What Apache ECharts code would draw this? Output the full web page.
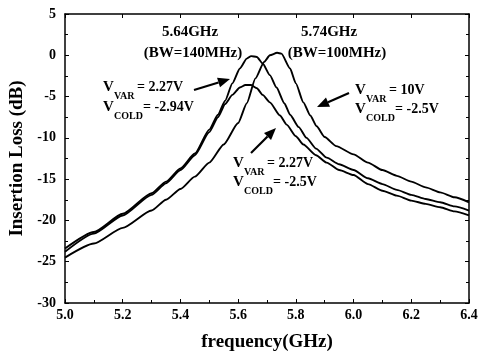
<!DOCTYPE html>
<html><head><meta charset="utf-8">
<script src="https://cdn.jsdelivr.net/npm/echarts@6/dist/echarts.min.js"></script>
<style>html,body{margin:0;padding:0;background:#fff}#c{width:480px;height:355px}</style>
</head><body><div id="c"></div>
<script>
// Frequency (GHz) / insertion loss (dB)
var freq1 = [5.0,5.1,5.2,5.3,5.35,5.4,5.45,5.5,5.53,5.555,5.58,5.606,5.63,5.645,5.665,5.685,5.71,5.733,5.76,5.78,5.81,5.837,5.87,5.907,5.95,6.0,6.05,6.1,6.15,6.2,6.25,6.3,6.35,6.4];
var loss1 = [-23.4,-21.4,-19.2,-16.7,-15.3,-13.7,-11.9,-9.0,-7.2,-5.5,-3.4,-1.6,-0.4,-0.1,-0.2,-1.0,-2.4,-3.9,-5.8,-7.2,-8.7,-10.0,-11.3,-12.4,-13.2,-13.9,-14.9,-15.6,-16.3,-16.9,-17.4,-17.8,-18.3,-18.8];
var freq2 = [5.0,5.1,5.2,5.3,5.35,5.4,5.45,5.5,5.55,5.6,5.63,5.66,5.69,5.71,5.735,5.75,5.78,5.8,5.826,5.85,5.872,5.9,5.94,6.0,6.05,6.1,6.15,6.2,6.25,6.3,6.35,6.4];
var loss2 = [-24.5,-22.8,-20.9,-18.8,-17.5,-16.2,-14.7,-13.0,-10.8,-8.2,-5.8,-2.8,-0.8,0.0,0.3,0.2,-1.6,-3.4,-5.7,-7.3,-8.6,-9.9,-11.0,-12.0,-13.0,-13.9,-14.6,-15.3,-16.0,-16.6,-17.2,-17.8];
var freq3 = [5.0,5.1,5.2,5.3,5.35,5.4,5.45,5.5,5.53,5.555,5.58,5.606,5.625,5.645,5.665,5.685,5.71,5.745,5.768,5.8,5.826,5.87,5.907,5.95,6.0,6.05,6.1,6.15,6.2,6.25,6.3,6.35,6.4];
var loss3 = [-23.8,-21.6,-19.4,-16.9,-15.5,-13.9,-12.1,-9.3,-7.5,-5.9,-4.8,-3.9,-3.6,-3.6,-4.0,-4.8,-5.7,-7.3,-8.4,-9.8,-10.8,-12.1,-13.0,-13.9,-14.5,-15.6,-16.4,-17.0,-17.6,-18.0,-18.4,-18.9,-19.4];
var yTicks = [5,0,-5,-10,-15,-20,-25,-30];
var xTicks = ['5.0','5.2','5.4','5.6','5.8','6.0','6.2','6.4'];

function pairs(f, l){ var a=[]; for(var i=0;i<f.length;i++) a.push([f[i],l[i]]); return a; }

var FONT = '"Liberation Serif","DejaVu Serif",serif';
var chart = echarts.init(document.getElementById('c'));

function lbl(x, y, sub, rest){
  return [
    {type:'text', x:x, y:y, style:{text:'V', font:'bold 15px '+FONT, fill:'#000', textVerticalAlign:'middle'}},
    {type:'text', x:x+11, y:y+9, style:{text:sub, font:'bold 10px '+FONT, fill:'#000', textVerticalAlign:'middle'}},
    {type:'text', x:x + (sub==='VAR'?34:40), y:y, style:{text:rest, font:'bold 14px '+FONT, fill:'#000', textVerticalAlign:'middle'}}
  ];
}
function arrow(x1,y1,x2,y2){
  var ang = Math.atan2(y2-y1, x2-x1), L=12, W=5;
  var bx = x2 - L*Math.cos(ang), by = y2 - L*Math.sin(ang);
  var px = -Math.sin(ang)*W, py = Math.cos(ang)*W;
  return [
    {type:'line', shape:{x1:x1,y1:y1,x2:bx,y2:by}, style:{stroke:'#000', lineWidth:2.2}},
    {type:'polygon', shape:{points:[[x2,y2],[bx+px,by+py],[bx-px,by-py]]}, style:{fill:'#000'}}
  ];
}

var gfx = [].concat(
  [{type:'text', x:190, y:32, style:{text:'5.64GHz', font:'bold 15px '+FONT, fill:'#000', textAlign:'center', textVerticalAlign:'middle'}},
   {type:'text', x:193, y:53, style:{text:'(BW=140MHz)', font:'bold 15px '+FONT, fill:'#000', textAlign:'center', textVerticalAlign:'middle'}},
   {type:'text', x:329, y:32, style:{text:'5.74GHz', font:'bold 15px '+FONT, fill:'#000', textAlign:'center', textVerticalAlign:'middle'}},
   {type:'text', x:337, y:53, style:{text:'(BW=100MHz)', font:'bold 15px '+FONT, fill:'#000', textAlign:'center', textVerticalAlign:'middle'}}],
  lbl(103, 87, 'VAR', '= 2.27V'),
  lbl(103, 107, 'COLD', '= -2.94V'),
  lbl(355, 90, 'VAR', '= 10V'),
  lbl(355, 109, 'COLD', '= -2.5V'),
  lbl(233, 163, 'VAR', '= 2.27V'),
  lbl(233, 182, 'COLD', '= -2.5V'),
  arrow(194, 90, 230, 79),
  arrow(349, 93, 317, 107),
  arrow(251, 153, 276, 128)
);

var lineStyle = {color:'#000', width:1.9};
chart.setOption({
  animation:false,
  backgroundColor:'#fff',
  grid:{left:65, right:11, top:14, bottom:52, outerBoundsMode:'none', containLabel:false},
  xAxis:[{type:'value', min:5.0, max:6.4, interval:0.2, position:'bottom',
    axisLine:{onZero:false, lineStyle:{color:'#000', width:1.5}},
    axisTick:{inside:true, length:4, lineStyle:{color:'#000'}},
    minorTick:{show:true, splitNumber:2, length:3, lineStyle:{color:'#000'}},
    splitLine:{show:false},
    axisLabel:{color:'#000', fontFamily:FONT, fontWeight:'bold', fontSize:14, margin:5,
      formatter:function(v){ var s=v.toFixed(1); return xTicks.indexOf(s)>=0?s:''; }},
    name:'frequency(GHz)', nameLocation:'middle', nameGap:30,
    nameTextStyle:{color:'#000', fontFamily:FONT, fontWeight:'bold', fontSize:19}},
   {type:'value', min:5.0, max:6.4, interval:0.2, position:'top',
    axisLine:{show:true, onZero:false, lineStyle:{color:'#000', width:1.5}},
    axisTick:{show:true, inside:true, length:4, lineStyle:{color:'#000'}},
    axisLabel:{show:false}, splitLine:{show:false}}],
  yAxis:[{type:'value', min:-30, max:5, interval:5, position:'left',
    axisLine:{show:true, onZero:false, lineStyle:{color:'#000', width:1.5}},
    axisTick:{show:true, inside:true, length:4, lineStyle:{color:'#000'}},
    minorTick:{show:true, splitNumber:2, length:3, lineStyle:{color:'#000'}},
    splitLine:{show:false},
    axisLabel:{color:'#000', fontFamily:FONT, fontWeight:'bold', fontSize:14, margin:9,
      formatter:function(v){ return yTicks.indexOf(v)>=0 ? String(v) : ''; }},
    name:'Insertion Loss (dB)', nameLocation:'middle', nameGap:35,
    nameTextStyle:{color:'#000', fontFamily:FONT, fontWeight:'bold', fontSize:19}},
   {type:'value', min:-30, max:5, interval:5, position:'right',
    axisLine:{show:true, onZero:false, lineStyle:{color:'#000', width:1.5}},
    axisTick:{show:true, inside:true, length:4, lineStyle:{color:'#000'}},
    minorTick:{show:true, splitNumber:2, length:3, lineStyle:{color:'#000'}},
    axisLabel:{show:false}, splitLine:{show:false}}],
  series:[
    {type:'line', data:pairs(freq1,loss1), showSymbol:false, smooth:0.2, smoothMonotone:'x', lineStyle:lineStyle},
    {type:'line', data:pairs(freq2,loss2), showSymbol:false, smooth:0.2, smoothMonotone:'x', lineStyle:lineStyle},
    {type:'line', data:pairs(freq3,loss3), showSymbol:false, smooth:0.2, smoothMonotone:'x', lineStyle:lineStyle}
  ],
  graphic:gfx
});
</script></body></html>
